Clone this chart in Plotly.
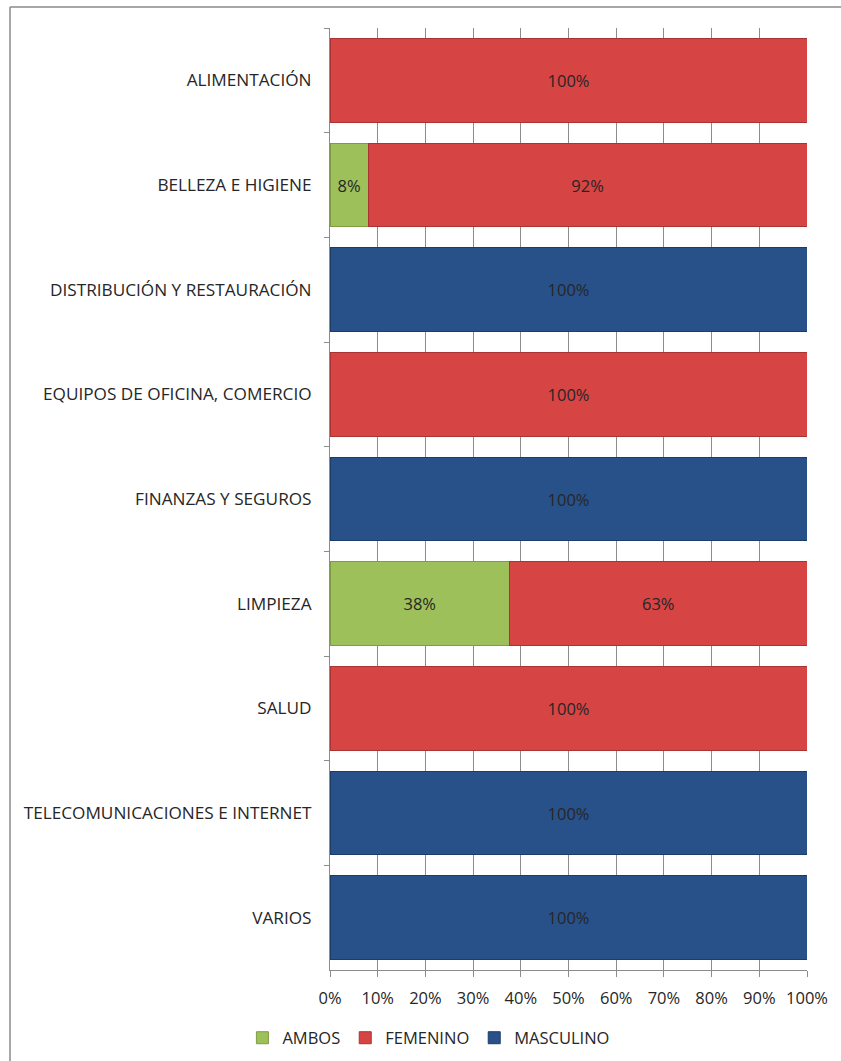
import plotly.graph_objects as go

# Sectors (top to bottom) and share of each gender group, in percent
categories = [
    "ALIMENTACIÓN",
    "BELLEZA E HIGIENE",
    "DISTRIBUCIÓN Y RESTAURACIÓN",
    "EQUIPOS DE OFICINA, COMERCIO",
    "FINANZAS Y SEGUROS",
    "LIMPIEZA",
    "SALUD",
    "TELECOMUNICACIONES E INTERNET",
    "VARIOS",
]
ambos = [None, 8, None, None, None, 38, None, None, None]
femenino = [100, 92, None, 100, None, 63, 100, None, None]
masculino = [None, None, 100, None, 100, None, None, 100, 100]

x_ticks = list(range(0, 101, 10))
x_tick_labels = [f"{t}%" for t in x_ticks]

series = [
    ("AMBOS", ambos, "#9DC05A", "#7E9C44"),
    ("FEMENINO", femenino, "#D64444", "#A93434"),
    ("MASCULINO", masculino, "#28518A", "#1C3D6A"),
]

W, H = 841, 1061
ML, MR, MT, MB = 330, 34, 28, 91
PW, PH = W - ML - MR, H - MT - MB

FONT = "Open Sans"
FS = 16.5
TXT = "#262626"
GRID = "#8C8C8C"

fig = go.Figure()
for name, vals, color, edge in series:
    fig.add_trace(go.Bar(
        name=name,
        y=categories,
        x=vals,
        orientation="h",
        marker=dict(color=color, line=dict(color=edge, width=1)),
        text=["" if v is None else f"{v}%" for v in vals],
        texttemplate="%{text}",
        textposition="inside",
        insidetextanchor="middle",
        textangle=0,
        constraintext="none",
        textfont=dict(family=FONT, size=FS, color=TXT),
        hoverinfo="skip",
    ))


def px_x(p):
    return (p - ML) / PW


def px_y(p):
    return 1 - (p - MT) / PH


# Outer chart frame (left and top edges)
frame = dict(color="#8A8A8A", width=1.5)
fig.add_shape(type="line", xref="paper", yref="paper",
              x0=px_x(10), x1=px_x(10), y0=px_y(7), y1=px_y(H + 5), line=frame)
fig.add_shape(type="line", xref="paper", yref="paper",
              x0=px_x(10), x1=px_x(W + 5), y0=px_y(7), y1=px_y(7), line=frame)

fig.update_layout(
    width=W, height=H,
    margin=dict(l=ML, r=MR, t=MT, b=MB),
    paper_bgcolor="white",
    plot_bgcolor="white",
    barmode="stack",
    barnorm="percent",
    bargap=0.2,
    font=dict(family=FONT, size=FS, color=TXT),
    showlegend=True,
    legend=dict(
        orientation="h",
        xref="container", yref="container",
        x=0.51, xanchor="center",
        y=1 - 1038 / H, yanchor="middle",
        font=dict(family=FONT, size=FS, color=TXT),
        traceorder="normal",
        itemwidth=30,
    ),
    xaxis=dict(
        range=[0, 100],
        tickvals=x_ticks,
        ticktext=x_tick_labels,
        showgrid=True, gridcolor=GRID, gridwidth=1,
        showline=True, linecolor=GRID, linewidth=1,
        ticks="outside", ticklen=6, tickcolor=GRID,
        tickfont=dict(family=FONT, size=FS, color=TXT),
        ticklabelstandoff=7,
        zeroline=False,
        fixedrange=True,
    ),
    yaxis=dict(
        autorange="reversed",
        showline=True, linecolor=GRID, linewidth=1,
        ticks="outside", ticklen=5, tickcolor=GRID,
        tickson="boundaries",
        showgrid=False,
        tickfont=dict(family=FONT, size=17.2, color=TXT),
        ticklabelstandoff=14,
        fixedrange=True,
    ),
)

fig.write_html("out.html")
